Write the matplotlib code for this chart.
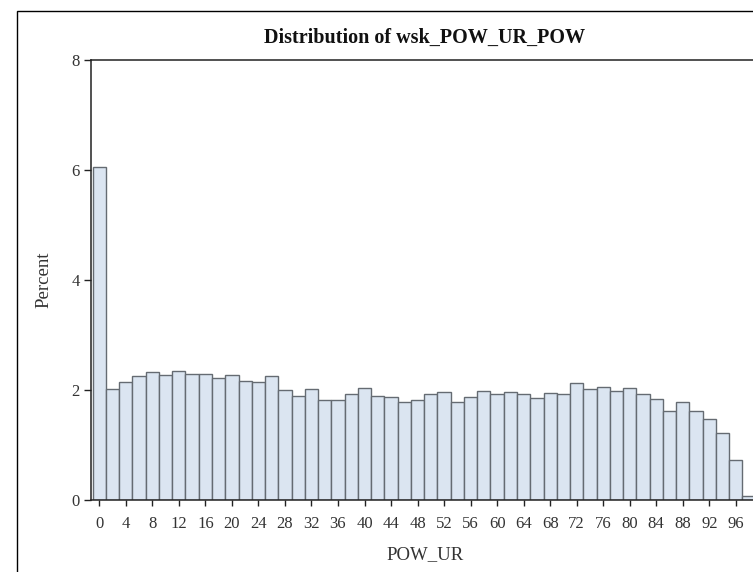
import matplotlib
matplotlib.use("Agg")
import matplotlib.pyplot as plt
from matplotlib.patches import Rectangle

# Data: bin midpoints (width 2) and percentages
bin_mids = list(range(0, 100, 2))
percent = [6.06, 2.01, 2.15, 2.26, 2.33, 2.27, 2.34, 2.29, 2.30, 2.21,
           2.28, 2.16, 2.14, 2.25, 2.00, 1.90, 2.01, 1.82, 1.81, 1.93,
           2.03, 1.90, 1.88, 1.78, 1.82, 1.93, 1.97, 1.78, 1.87, 1.98,
           1.92, 1.96, 1.92, 1.86, 1.95, 1.93, 2.13, 2.01, 2.05, 1.99,
           2.04, 1.93, 1.84, 1.62, 1.79, 1.62, 1.47, 1.22, 0.72, 0.08]
bin_width = 2
x_ticks = list(range(0, 97, 4))
y_ticks = [0, 2, 4, 6, 8]

title = "Distribution of wsk_POW_UR_POW"
xlabel = "POW_UR"
ylabel = "Percent"

plt.rcParams['font.family'] = ['Liberation Serif', 'DejaVu Serif']

W, H = 753, 572
fig = plt.figure(figsize=(W / 100, H / 100), dpi=100)

# outer border (extends beyond the visible area on right/bottom)
fig.patches.append(Rectangle((16.5 / W, -0.5), 2.0, (1 - 10.5 / H) + 0.5,
                             transform=fig.transFigure, fill=False,
                             edgecolor='black', linewidth=1.0))

ax = fig.add_axes([91 / W, (H - 500) / H, 669 / W, 440 / H])
ax.bar(bin_mids, percent, width=bin_width, align='center',
       color='#dbe5f1', edgecolor='#656b72', linewidth=1.0, zorder=2)

ax.set_xlim(-1.25, 99.65)
ax.set_ylim(0, 8)
ax.set_xticks(x_ticks)
ax.set_yticks(y_ticks)
ax.tick_params(axis='both', direction='out', colors='#222222',
               labelcolor='#333333', labelsize=12, width=1.0)
ax.tick_params(axis='x', length=4.5, pad=7)
ax.tick_params(axis='y', length=5, pad=3)
for s in ['left', 'bottom', 'top', 'right']:
    ax.spines[s].set_color('#222222')
    ax.spines[s].set_linewidth(1.1)

ax.set_xlabel(xlabel, fontsize=13.5, color='#333333', labelpad=10)
ax.set_ylabel(ylabel, fontsize=13.5, color='#333333', labelpad=14)

fig.text(425 / W, 1 - 38 / H, title, ha='center', va='center',
         fontsize=14.5, fontweight='bold', color='#111111')

fig.savefig("out.png", dpi=100)
